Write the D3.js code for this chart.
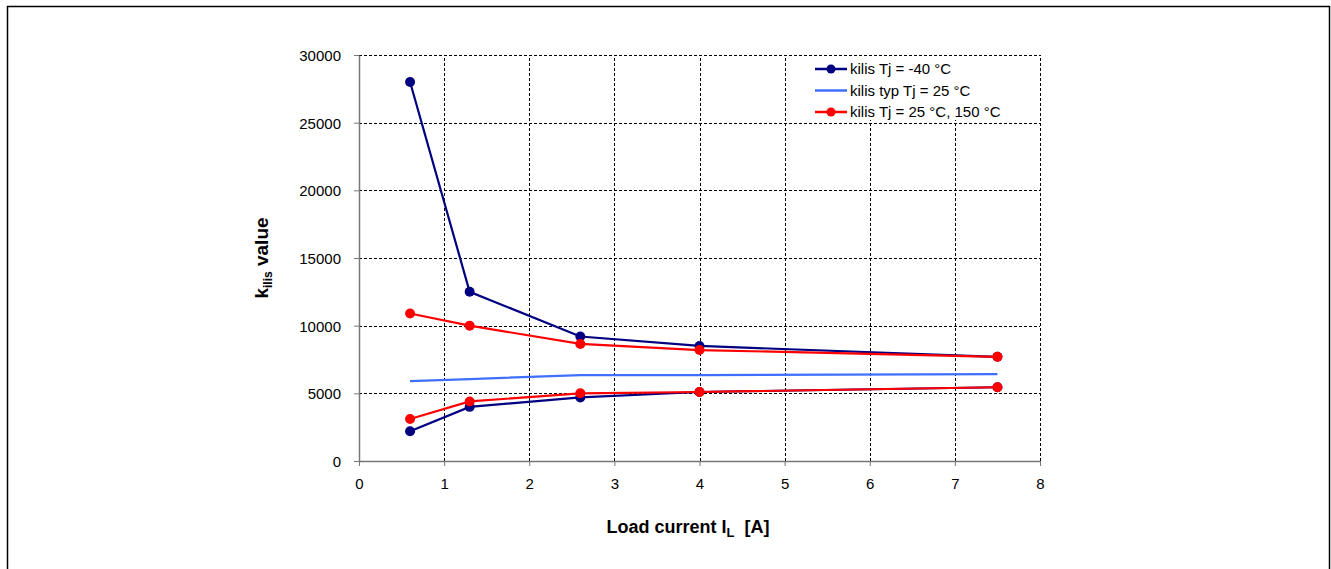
<!DOCTYPE html>
<html>
<head>
<meta charset="utf-8">
<script src="https://cdn.jsdelivr.net/npm/d3@7"></script>
<style>
  body { margin: 0; background: #fff; }
  svg { display: block; font-family: "Liberation Sans", Arial, sans-serif; }
</style>
</head>
<body>
<div id="chart"></div>
<script>
// Load current [A] at each measuring point
const currents = [0.6, 1.3, 2.6, 4, 7.5];

// kilis at Tj = -40 °C (upper and lower limit)
const coldUpper = [28000, 12500, 9200, 8500, 7700];
const coldLower = [2200, 4000, 4700, 5100, 5450];

// kilis typical at Tj = 25 °C
const typical = [5900, 6050, 6350, 6350, 6420];

// kilis at Tj = 25 °C, 150 °C (upper and lower limit)
const hotUpper = [10900, 10000, 8650, 8200, 7700];
const hotLower = [3100, 4400, 5000, 5100, 5450];

const xTicks = [0, 1, 2, 3, 4, 5, 6, 7, 8];
const yTicks = [0, 5000, 10000, 15000, 20000, 25000, 30000];

const legendItems = [
  { label: "kilis Tj = -40 °C", color: "#000080", marker: true },
  { label: "kilis typ Tj = 25 °C", color: "#3f6fff", marker: false },
  { label: "kilis Tj = 25 °C, 150 °C", color: "#ff0000", marker: true }
];

const width = 1331, height = 569;
const margin = { left: 359, right: 291, top: 55, bottom: 108 };

const svg = d3.select("#chart").append("svg")
  .attr("width", width)
  .attr("height", height);

// outer frame
svg.append("rect")
  .attr("x", 7.5).attr("y", 6.5)
  .attr("width", 1322).attr("height", 600)
  .attr("fill", "none")
  .attr("stroke", "#000")
  .attr("stroke-width", 1.5);

const x = d3.scaleLinear().domain([0, 8]).range([margin.left, width - margin.right]);
const y = d3.scaleLinear().domain([0, 30000]).range([height - margin.bottom, margin.top]);

// grid lines
const grid = svg.append("g")
  .attr("stroke", "#000")
  .attr("stroke-width", 1)
  .attr("stroke-dasharray", "3,2");

grid.selectAll(".gx").data(xTicks.slice(1)).join("line")
  .attr("x1", d => Math.round(x(d)) + 0.5).attr("x2", d => Math.round(x(d)) + 0.5)
  .attr("y1", y(0)).attr("y2", y(30000));

grid.selectAll(".gy").data(yTicks.slice(1)).join("line")
  .attr("y1", d => Math.round(y(d)) + 0.5).attr("y2", d => Math.round(y(d)) + 0.5)
  .attr("x1", x(0)).attr("x2", x(8));

// axes
const xAxis = svg.append("g")
  .attr("transform", `translate(0,${y(0)})`)
  .call(d3.axisBottom(x).tickValues(xTicks).tickFormat(d3.format("d"))
    .tickSize(5).tickPadding(12).tickSizeOuter(0));
const yAxis = svg.append("g")
  .attr("transform", `translate(${x(0)},0)`)
  .call(d3.axisLeft(y).tickValues(yTicks).tickFormat(d3.format("d"))
    .tickSize(5).tickPadding(13).tickSizeOuter(0));

[xAxis, yAxis].forEach(a => {
  a.select(".domain").attr("stroke", "#777").attr("stroke-width", 1.5);
  a.selectAll(".tick line").attr("stroke", "#777");
  a.selectAll("text")
    .attr("font-size", 15)
    .attr("font-family", "Liberation Sans, Arial, sans-serif")
    .attr("fill", "#000");
});
yAxis.selectAll("text").attr("dy", "0.36em");

// series
const line = d3.line()
  .x(d => x(d[0]))
  .y(d => y(d[1]));

const series = [
  { values: typical, color: "#3f6fff", marker: false },
  { values: coldUpper, color: "#000080", marker: true },
  { values: coldLower, color: "#000080", marker: true },
  { values: hotUpper, color: "#ff0000", marker: true },
  { values: hotLower, color: "#ff0000", marker: true }
];

series.forEach(s => {
  const pts = currents.map((c, i) => [c, s.values[i]]);
  svg.append("path")
    .datum(pts)
    .attr("d", line)
    .attr("fill", "none")
    .attr("stroke", s.color)
    .attr("stroke-width", 2.2);
  if (s.marker) {
    svg.append("g").selectAll("circle").data(pts).join("circle")
      .attr("cx", d => x(d[0]))
      .attr("cy", d => y(d[1]))
      .attr("r", 5)
      .attr("fill", s.color);
  }
});

// legend
const legend = svg.append("g");
legend.append("rect")
  .attr("x", 808).attr("y", 58)
  .attr("width", 228).attr("height", 62)
  .attr("fill", "#fff");

legendItems.forEach((item, i) => {
  const ly = 69 + i * 21.5;
  legend.append("line")
    .attr("x1", 815).attr("x2", 847)
    .attr("y1", ly).attr("y2", ly)
    .attr("stroke", item.color)
    .attr("stroke-width", 2.5);
  if (item.marker) {
    legend.append("circle")
      .attr("cx", 831).attr("cy", ly).attr("r", 4.5)
      .attr("fill", item.color);
  }
  legend.append("text")
    .attr("x", 850).attr("y", ly)
    .attr("dy", "0.36em")
    .attr("font-size", 15)
    .attr("fill", "#000")
    .text(item.label);
});

// axis titles
const xt = svg.append("text")
  .attr("x", 688)
  .attr("y", 533)
  .attr("text-anchor", "middle")
  .attr("font-size", 18)
  .attr("font-weight", "bold");
xt.append("tspan").text("Load current I");
xt.append("tspan").attr("font-size", 13).attr("dy", 4).text("L");
xt.append("tspan").attr("dy", -4).text("\u00a0 [A]");

const yt = svg.append("text")
  .attr("transform", `translate(268,258) rotate(-90)`)
  .attr("text-anchor", "middle")
  .attr("font-size", 19)
  .attr("font-weight", "bold");
yt.append("tspan").text("k");
yt.append("tspan").attr("font-size", 12).attr("dy", 4).text("ilis");
yt.append("tspan").attr("dy", -4).text(" value");
</script>
</body>
</html>
